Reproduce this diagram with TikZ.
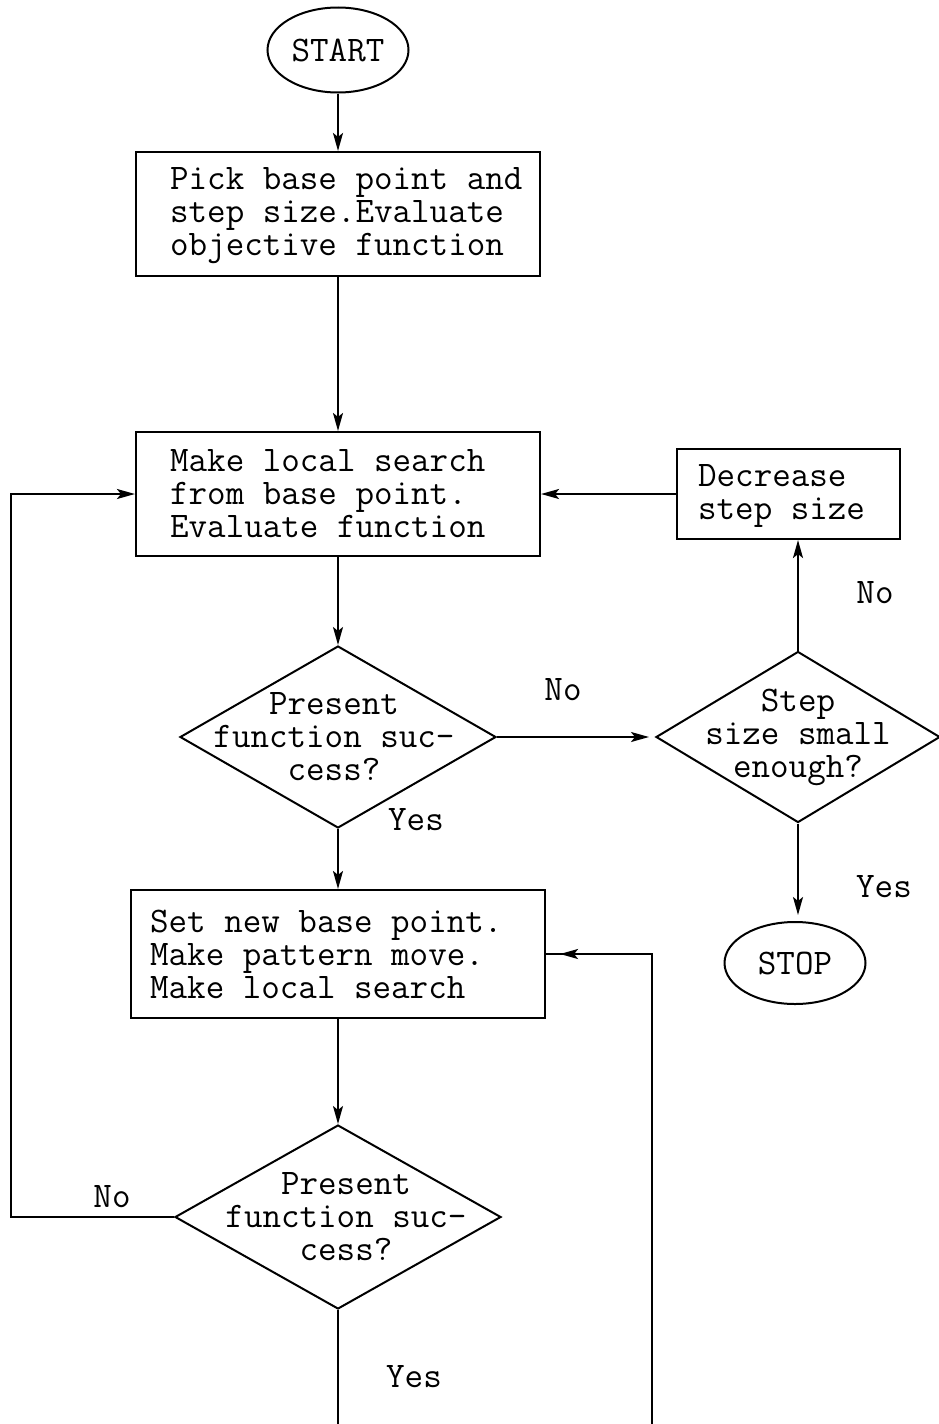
\documentclass[tikz,border=0pt]{standalone}
\usetikzlibrary{shapes.geometric,arrows.meta,decorations.markings}
\newcommand\flowfont{\fontsize{36}{33}\selectfont\ttfamily}
\tikzset{
  every node/.style={font=\flowfont},
  ln/.style={line width=2pt},
  tip/.style={-{Stealth[length=18pt,width=10pt,inset=4pt]}},
  arr/.style={ln, tip},
  midarr/.style={ln, postaction={decorate},
    decoration={markings, mark=at position -14pt with {\arrow{Stealth[length=18pt,width=10pt,inset=4pt]}}}},
  box/.style={draw, line width=2.1pt, rectangle, inner sep=0pt},
  dia/.style={draw, line width=2pt, diamond, inner sep=0pt},
  term/.style={draw, line width=2pt, ellipse, inner sep=0pt},
  txt/.style={align=left, inner sep=0pt},
  ctxt/.style={align=center, inner sep=0pt},
  lab/.style={inner sep=0pt},
}
\begin{document}
\begin{tikzpicture}[x=1pt, y=-1pt]
\useasboundingbox (0,0) rectangle (938,1424);

\node[term, minimum width=141pt, minimum height=85pt] (start) at (338,50) {START};

\node[box, minimum width=404pt, minimum height=124pt,
  label={[txt, anchor=west, xshift=35pt, yshift=-2pt]west:{Pick base point and\\step size.Evaluate\\objective function}}] (b1) at (338,214) {};

\node[box, minimum width=404pt, minimum height=124pt,
  label={[txt, anchor=west, xshift=35pt]west:{Make local search\\from base point.\\Evaluate function}}] (b2) at (338,494) {};

\node[box, minimum width=223pt, minimum height=90pt,
  label={[txt, anchor=west, xshift=22pt, yshift=-2pt]west:{Decrease\\step size}}] (dec) at (788.5,494) {};

\node[dia, minimum width=316pt, minimum height=182pt,
  label={[ctxt, xshift=-4pt]center:{Present\\function suc-\\cess?}}] (d1) at (338,737) {};

\node[dia, minimum width=284pt, minimum height=171pt,
  label={[ctxt]center:{Step\\size small\\enough?}}] (d2) at (798,737) {};

\node[box, minimum width=414pt, minimum height=128pt,
  label={[txt, anchor=west, xshift=20pt]west:{Set new base point.\\Make pattern move.\\Make local search}}] (b3) at (338,954) {};

\node[term, minimum width=141pt, minimum height=82pt] (stop) at (795,963) {STOP};

\node[dia, minimum width=326pt, minimum height=184pt,
  label={[ctxt, xshift=8pt]center:{Present\\function suc-\\cess?}}] (d3) at (338,1217) {};

\node[lab] (no1) at (563,690) {No};
\node[lab] (yes1) at (416,820) {Yes};
\node[lab] (no2) at (875,593) {No};
\node[lab] (yes2) at (884,887) {Yes};
\node[lab] (no3) at (112,1197) {No};
\node[lab] (yes3) at (414,1377) {Yes};

\coordinate (lx) at (11,0);
\coordinate (bot) at (0,1424);
\coordinate (rx) at (652,1424);

\draw[arr] (start) -- (b1);
\draw[arr] (b1) -- (b2);
\draw[arr] (b2) -- (d1);
\draw[arr, shorten >=6pt] (d1.east) -- (d2.west);
\draw[arr] (d2.north) -- (d2.north |- dec.south);
\draw[arr] (dec.west) -- (dec.west -| b2.east);
\draw[arr, shorten >=6pt] (d2.south) -- (d2.south |- stop.north);
\draw[arr] (d1) -- (b3);
\draw[arr] (b3) -- (d3);
\draw[arr] (d3.west) -- (d3.west -| lx) |- (b2.west);
\draw[ln] (d3.south) -- (d3.south |- bot);
\draw[midarr] (rx) |- (b3.east);
\end{tikzpicture}
\end{document}
